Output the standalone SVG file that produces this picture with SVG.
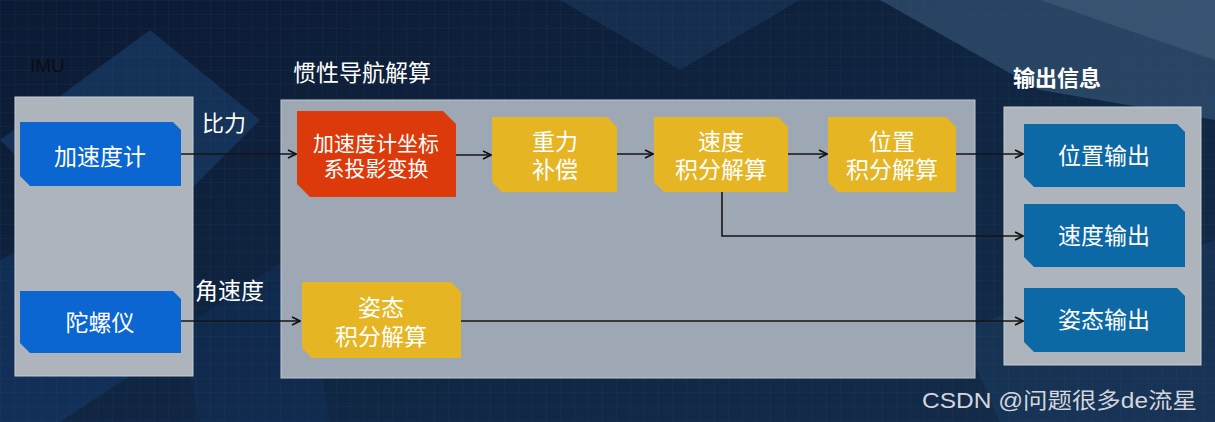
<svg xmlns="http://www.w3.org/2000/svg" width="1215" height="422" viewBox="0 0 1215 422">
<defs>
<pattern id="grid" width="14" height="14" patternUnits="userSpaceOnUse">
<path d="M14 0H0V14" fill="none" stroke="#3b5478" stroke-width="0.6" opacity="0.35"/>
</pattern>
<marker id="arr" viewBox="0 0 10 10" refX="9" refY="5" markerWidth="10" markerHeight="10" markerUnits="userSpaceOnUse" orient="auto">
<path d="M1 1L9 5L1 9" fill="none" stroke="#111" stroke-width="1.6"/>
</marker>
<linearGradient id="bg" x1="0" y1="0" x2="1" y2="1">
<stop offset="0" stop-color="#0c1a33"/>
<stop offset="0.6" stop-color="#102744"/>
<stop offset="1" stop-color="#142c4a"/>
</linearGradient>
</defs>
<style>
.panel{fill:#aeb4bc;stroke:#c9ced4;stroke-width:1}
.mpanel{fill:#9ea8b4;stroke:#c0c6cd;stroke-width:1}
.imu{fill:#0b66d2}
.out{fill:#0d69a6}
.yel{fill:#e5b524}
.red{fill:#dc3a0b}
.t{font-family:"Liberation Sans","Noto Sans CJK SC",sans-serif;fill:#fff;text-anchor:middle}
.h{font-family:"Liberation Sans","Noto Sans CJK SC",sans-serif;fill:#fff}
.c{fill:none;stroke:#141414;stroke-width:1.6}
</style>
<rect width="1215" height="422" fill="url(#bg)"/>
<g opacity="0.55">
<polygon points="880,0 1215,0 1215,120 1040,90" fill="#3d5f80"/>
<polygon points="1040,0 1215,0 1215,60" fill="#5a7a98"/>
<polygon points="0,140 150,30 260,120 120,260" fill="#1b4272"/>
<polygon points="0,260 120,200 200,330 60,422 0,422" fill="#15396a"/>
<polygon points="180,330 300,250 330,422 200,422" fill="#122f58"/>
<polygon points="960,330 1215,240 1215,422 1000,422" fill="#1c3a5e"/>
<polygon points="560,0 800,0 680,70" fill="#1d3a5c"/>
</g>
<rect width="1215" height="422" fill="url(#grid)"/>

<text x="30" y="72" font-family="Liberation Sans,Arial,sans-serif" font-size="19" fill="#0a0d14">IMU</text>
<text class="h" x="293" y="81" font-size="23">惯性导航解算</text>
<text class="h" x="1013" y="86" font-size="22" font-weight="bold">输出信息</text>

<g id="imu-panel"><rect class="panel" x="15" y="97" width="178" height="279"/></g>
<g id="main-panel"><rect class="mpanel" x="281" y="100" width="694" height="278"/></g>
<g id="out-panel"><rect class="panel" x="1004" y="107" width="197" height="258"/></g>

<g id="accel">
<path class="imu" d="M20 122H173L181 130V186H30L20 176Z"/>
<text class="t" x="100" y="165" font-size="23">加速度计</text>
</g>
<g id="gyro">
<path class="imu" d="M20 291H173L181 299V353H30L20 343Z"/>
<text class="t" x="100" y="331" font-size="23">陀螺仪</text>
</g>

<g id="proj">
<path class="red" d="M297 111H443L456 124V197H310L297 184Z"/>
<text class="t" font-size="21"><tspan x="376" y="151">加速度计坐标</tspan><tspan x="376" dy="25">系投影变换</tspan></text>
</g>
<g id="gravity">
<path class="yel" d="M492 117H607L617 127V192H502L492 182Z"/>
<text class="t" font-size="23"><tspan x="555" y="150">重力</tspan><tspan x="555" dy="28">补偿</tspan></text>
</g>
<g id="vel">
<path class="yel" d="M654 117H778L788 127V192H664L654 182Z"/>
<text class="t" font-size="23"><tspan x="721" y="150">速度</tspan><tspan x="721" dy="28">积分解算</tspan></text>
</g>
<g id="pos">
<path class="yel" d="M828 117H946L956 127V192H838L828 182Z"/>
<text class="t" font-size="23"><tspan x="892" y="150">位置</tspan><tspan x="892" dy="28">积分解算</tspan></text>
</g>
<g id="att">
<path class="yel" d="M302 282H451L461 292V358H312L302 348Z"/>
<text class="t" font-size="23"><tspan x="381" y="316">姿态</tspan><tspan x="381" dy="29">积分解算</tspan></text>
</g>

<g id="out-pos">
<path class="out" d="M1024 124H1177L1185 132V187H1034L1024 177Z"/>
<text class="t" x="1104" y="164" font-size="23">位置输出</text>
</g>
<g id="out-vel">
<path class="out" d="M1024 204H1177L1185 212V267H1034L1024 257Z"/>
<text class="t" x="1104" y="244" font-size="23">速度输出</text>
</g>
<g id="out-att">
<path class="out" d="M1024 288H1177L1185 296V352H1034L1024 342Z"/>
<text class="t" x="1104" y="328" font-size="23">姿态输出</text>
</g>

<g id="connectors">
<path class="c" d="M181 154H296" marker-end="url(#arr)"/>
<path class="c" d="M181 321H300" marker-end="url(#arr)"/>
<path class="c" d="M456 155H491" marker-end="url(#arr)"/>
<path class="c" d="M617 154H653" marker-end="url(#arr)"/>
<path class="c" d="M788 154H827" marker-end="url(#arr)"/>
<path class="c" d="M956 154H1023" marker-end="url(#arr)"/>
<path class="c" d="M722 192V236H1023" marker-end="url(#arr)"/>
<path class="c" d="M461 321H1023" marker-end="url(#arr)"/>
<text class="h" x="202" y="131" font-size="22">比力</text>
<text class="h" x="195" y="299" font-size="23">角速度</text>
</g>

<text x="922" y="408" font-family="Liberation Sans,'Noto Sans CJK SC',sans-serif" font-size="22" textLength="275" lengthAdjust="spacingAndGlyphs" fill="#d2d6dc">CSDN @问题很多de流星</text>
</svg>
